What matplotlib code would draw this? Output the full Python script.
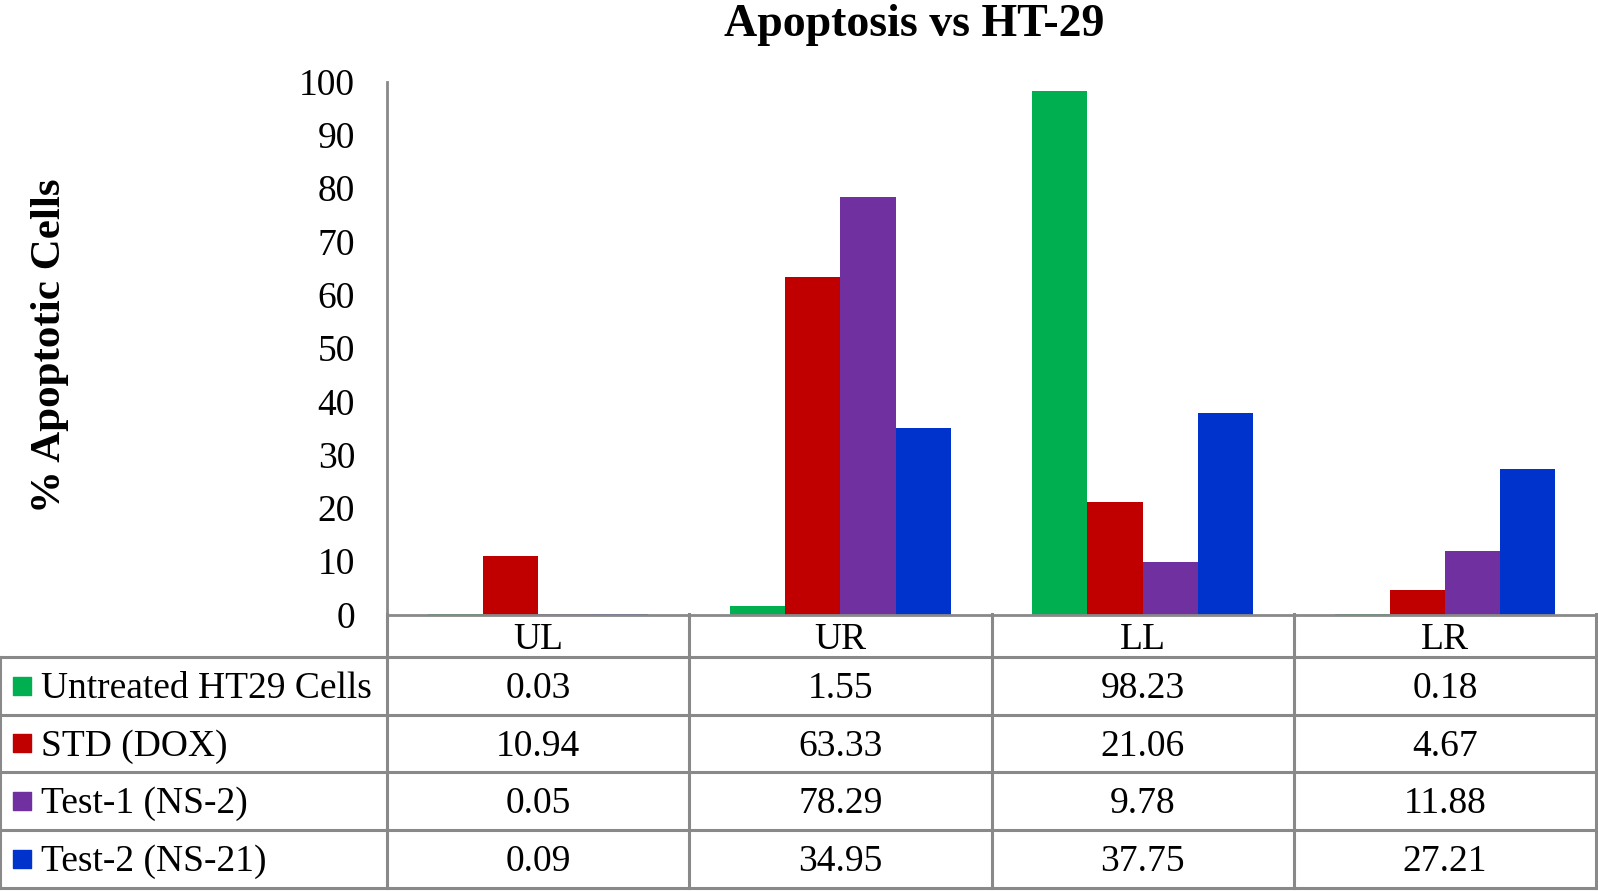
import matplotlib
matplotlib.use("Agg")
import matplotlib.pyplot as plt
import numpy as np

plt.rcParams['font.family'] = ['Liberation Serif', 'DejaVu Serif']

# data
categories = ["UL", "UR", "LL", "LR"]
series_names = ["Untreated HT29 Cells", "STD (DOX)", "Test-1 (NS-2)", "Test-2 (NS-21)"]
untreated = [0.03, 1.55, 98.23, 0.18]
std_dox = [10.94, 63.33, 21.06, 4.67]
test1 = [0.05, 78.29, 9.78, 11.88]
test2 = [0.09, 34.95, 37.75, 27.21]
series_values = [untreated, std_dox, test1, test2]
colors = ["#00B050", "#C00000", "#7030A0", "#0033CC"]
yticks = [0, 10, 20, 30, 40, 50, 60, 70, 80, 90, 100]

W, H = 1598, 891
fig = plt.figure(figsize=(W / 100, H / 100), dpi=100)
grey = "#898989"
fs = 27

# bar chart
ax = fig.add_axes([387 / W, (H - 614.5) / H, (1596 - 387) / W, (614.5 - 81.5) / H])
x = np.arange(len(categories)) + 0.5
bw = 0.1825
for i, (vals, c) in enumerate(zip(series_values, colors)):
    ax.bar(x + (i - 1.5) * bw, vals, width=bw, color=c, zorder=2)
ax.set_xlim(0, len(categories))
ax.set_ylim(0, 100)
ax.set_yticks(yticks)
ax.set_yticklabels([str(t) for t in yticks], fontsize=fs)
ax.tick_params(axis='y', length=0, pad=23)
ax.set_xticks([])
for s in ["top", "right"]:
    ax.spines[s].set_visible(False)
ax.spines["left"].set_color(grey)
ax.spines["left"].set_linewidth(2)
ax.spines["bottom"].set_color(grey)
ax.spines["bottom"].set_linewidth(2)

# data table underneath
lab_w = 387 / 302.2
tab = fig.add_axes([0, 3 / H, 1596 / W, 274 / H])
hdr = 0.74
nrows = len(series_names)
tab.set_xlim(-lab_w, len(categories))
tab.set_ylim(hdr + nrows, 0)
tab.axis("off")
lw = 2.2
# horizontal lines
for r in range(nrows + 1):
    tab.plot([-lab_w, len(categories)], [hdr + r, hdr + r], color=grey, lw=lw,
             clip_on=False, solid_capstyle='projecting')
# vertical lines
tab.plot([-lab_w, -lab_w], [hdr, hdr + nrows], color=grey, lw=lw, clip_on=False)
for c in range(len(categories) + 1):
    tab.plot([c, c], [0, hdr + nrows], color=grey, lw=lw, clip_on=False)

for j, cat in enumerate(categories):
    tab.text(j + 0.5, hdr / 2 + 0.08, cat, ha='center', va='center', fontsize=fs)
for r, (name, vals, c) in enumerate(zip(series_names, series_values, colors)):
    yc = hdr + r + 0.55
    tab.scatter([-lab_w + 0.073], [hdr + r + 0.5], marker='s', s=150, color=c, clip_on=False)
    tab.text(-lab_w + 0.135, yc, name, ha='left', va='center', fontsize=fs)
    for j, v in enumerate(vals):
        tab.text(j + 0.5, yc, f"{v:.2f}", ha='center', va='center', fontsize=fs)

fig.text(914 / W, 1 - 25 / H, "Apoptosis vs HT-29", ha='center', va='center',
         fontsize=33, fontweight='bold')
fig.text(50 / W, 1 - 346 / H, "% Apoptotic Cells", ha='center', va='center',
         fontsize=31, fontweight='bold', rotation=90)

fig.savefig("out.png", dpi=100)
